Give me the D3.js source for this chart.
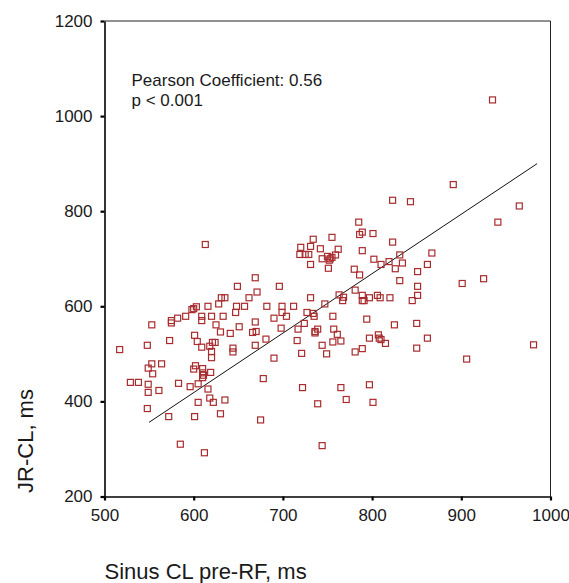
<!DOCTYPE html>
<html>
<head>
<meta charset="utf-8">
<script src="https://cdn.jsdelivr.net/npm/d3@7"></script>
<style>
  body { margin: 0; background: #fff; }
  text { font-family: "Liberation Sans", Arial, sans-serif; fill: #1a1a1a; }
</style>
</head>
<body>
<div id="chart"></div>
<script>
// sinus CL before RF (ms) and JR-CL (ms), one entry per patient
var sinusCL = [935,891,823,843,965,941,785,789,786,801,
  613,734,755,720,731,742,762,719,725,729,
  789,823,750,753,755,752,744,759,802,867,
  831,834,819,810,826,731,751,780,786,862,
  851,669,831,649,696,671,925,901,851,851,
  662,628,631,635,731,763,768,767,781,789,
  789,791,797,806,809,820,845,682,657,648,
  647,699,699,704,712,747,727,734,735,603,
  600,598,616,609,620,609,633,591,582,575,
  575,553,690,756,794,850,825,669,625,651,
  698,717,724,739,736,736,757,761,670,666,
  630,641,601,681,716,756,765,808,807,810,
  815,797,862,850,789,744,781,721,749,573,
  548,517,604,609,621,624,618,620,620,644,
  644,669,690,906,981,564,553,549,554,602,
  600,610,610,610,611,619,549,561,549,529,
  538,583,596,605,616,618,622,635,605,548,
  572,601,630,678,675,722,739,765,771,797,
  801,585,612,744];
var jrCL = [1034,856,823,820,811,777,777,756,751,753,
  730,741,745,724,726,721,720,709,709,709,
  717,735,705,700,703,697,700,708,699,712,
  708,691,694,688,679,688,680,678,666,688,
  673,660,654,642,642,630,658,648,642,623,
  618,605,618,618,618,624,619,612,634,623,
  612,612,618,623,618,618,612,600,600,600,
  587,600,587,579,600,605,587,585,579,599,
  595,593,600,579,579,570,579,579,575,570,
  565,561,575,579,573,564,561,567,561,557,
  554,552,564,552,547,544,552,541,547,545,
  546,543,539,531,528,525,527,533,540,530,
  522,533,533,512,511,518,504,501,500,528,
  518,509,526,514,524,524,516,505,492,512,
  504,518,491,489,519,479,479,470,458,475,
  468,469,460,450,455,461,436,423,419,440,
  440,438,431,437,426,407,398,403,398,385,
  368,368,374,448,361,429,395,429,404,435,
  398,310,292,307];

// least squares line as drawn in the figure
var fitX = [550, 985];
var fitY = [356, 900];

var xTicks = [500, 600, 700, 800, 900, 1000];
var yTicks = [200, 400, 600, 800, 1000, 1200];

var margin = {top: 21, right: 18.5, bottom: 86.5, left: 104.5},
    width = 569 - margin.left - margin.right,
    height = 583 - margin.top - margin.bottom;

var svg = d3.select("#chart").append("svg")
    .attr("width", 569)
    .attr("height", 583)
  .append("g")
    .attr("transform", "translate(" + margin.left + "," + margin.top + ")");

var x = d3.scaleLinear().domain([500, 1000]).range([0, width]);
var y = d3.scaleLinear().domain([200, 1200]).range([height, 0]);

// frame: thin top and right edges
svg.append("path")
    .attr("d", "M0,0H" + width + "V" + height)
    .attr("fill", "none")
    .attr("stroke", "#222")
    .attr("stroke-width", 1);

var xAxis = svg.append("g")
    .attr("transform", "translate(0," + height + ")")
    .call(d3.axisBottom(x).tickValues(xTicks).tickSize(4).tickSizeOuter(0).tickPadding(8)
      .tickFormat(d3.format("d")));

var yAxis = svg.append("g")
    .call(d3.axisLeft(y).tickValues(yTicks).tickSize(4).tickSizeOuter(0).tickPadding(8)
      .tickFormat(d3.format("d")));

[xAxis, yAxis].forEach(function(g) {
  g.select(".domain").attr("stroke", "#000").attr("stroke-width", 1.6);
  g.selectAll(".tick line").attr("stroke", "#000").attr("stroke-width", 2.2);
  g.selectAll(".tick text").style("font-size", "17px").attr("fill", "#1a1a1a");
});

// regression line
svg.append("line")
    .attr("x1", x(fitX[0])).attr("y1", y(fitY[0]))
    .attr("x2", x(fitX[1])).attr("y2", y(fitY[1]))
    .attr("stroke", "#111")
    .attr("stroke-width", 1);

// points
var pts = sinusCL.map(function(d, i) { return {sx: d, jr: jrCL[i]}; });
svg.selectAll(".pt")
    .data(pts)
    .enter().append("rect")
    .attr("class", "pt")
    .attr("x", function(d) { return x(d.sx) - 3; })
    .attr("y", function(d) { return y(d.jr) - 3; })
    .attr("width", 6)
    .attr("height", 6)
    .attr("fill", "none")
    .attr("stroke", "#a82c2e")
    .attr("stroke-width", 1.2);

// annotation
svg.append("text")
    .attr("x", 27).attr("y", 65)
    .style("font-size", "17px")
    .text("Pearson Coefficient: 0.56");
svg.append("text")
    .attr("x", 27).attr("y", 85)
    .style("font-size", "17px")
    .text("p < 0.001");

// axis titles
svg.append("text")
    .attr("x", 0)
    .attr("y", height + 82)
    .style("font-size", "22px")
    .text("Sinus CL pre-RF, ms");

svg.append("text")
    .attr("transform", "rotate(-90)")
    .attr("x", -(441 - margin.top))
    .attr("y", -72)
    .attr("text-anchor", "middle")
    .style("font-size", "22px")
    .text("JR-CL, ms");
</script>
</body>
</html>
